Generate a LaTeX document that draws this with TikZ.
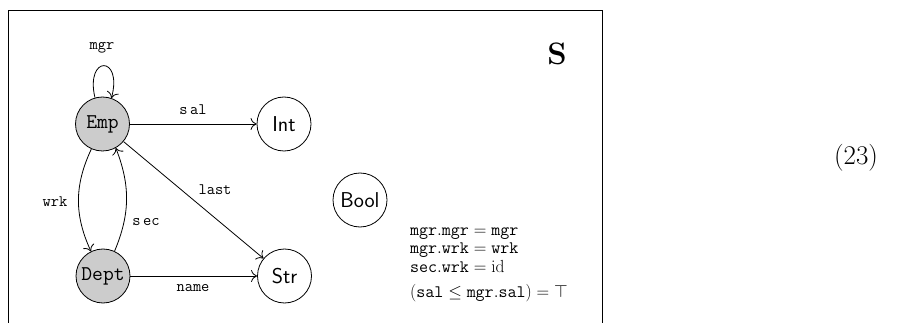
\RequirePackage{fix-cm}
\documentclass[tikz,border=0pt]{standalone}
\usetikzlibrary{arrows.meta}
\begin{document}
\begin{tikzpicture}[x=1pt,y=-1pt,
  every node/.style={inner sep=0pt},
  statenode/.style={circle,draw,line width=0.8pt,minimum size=54pt,inner sep=1pt},
  typenode/.style={statenode,fill=gray!40,font=\fontsize{21}{25}\selectfont\ttfamily},
  basicnode/.style={statenode,font=\fontsize{21.5}{25}\selectfont\sffamily},
  elab/.style={font=\fontsize{16}{19}\selectfont\ttfamily},
  conn/.style={line width=0.8pt,-{To[length=6pt,width=12pt]}},
  eqline/.style={anchor=base west,font=\fontsize{17.5}{21}\selectfont}]
\useasboundingbox (0,0) rectangle (910,323);
\draw[line width=0.9pt] (8,323) -- (8,10) -- (602,10) -- (602,323);

\node[typenode] (emp) at (102.5,124) {Emp};
\node[typenode] (dept) at (103,276) {Dept};
\node[basicnode] (int) at (284,124) {Int};
\node[basicnode] (str) at (284.5,276) {Str};
\node[basicnode] (bool) at (360,200) {Bool};

\draw[conn] (emp) -- (int);
\draw[conn] (dept) -- (str);
\draw[conn] (emp) -- (str);
\draw[conn] (emp.246) to[bend right=25] (dept.116);
\draw[conn] (dept.65) to[bend right=22] (emp.299);
\draw[conn] (emp.106) .. controls (85,55) and (123,55) .. (emp.71);

\node[elab] (lmgr) at (102,48) {mgr};
\node[elab] (lsal) at (193,110) {s\hspace{0.15em}al};
\node[elab] (llast) at (215,190) {last};
\node[elab] (lwrk) at (55,202) {wrk};
\node[elab] (lsec) at (146,222) {s\hspace{0.15em}ec};
\node[elab] (lname) at (193,288) {name};

\node (title) at (557,54) {\fontsize{31}{36}\selectfont\bfseries S};
\node (eqnum) at (856,158) {\fontsize{27}{32}\selectfont (23)};

\node[eqline] (e1) at (410,235) {$\mathtt{mgr.mgr}=\mathtt{mgr}$};
\node[eqline] (e2) at (410,253) {$\mathtt{mgr.wrk}=\mathtt{wrk}$};
\node[eqline] (e3) at (410,272) {$\mathtt{sec.wrk}=\mathrm{id}$};
\node[eqline] (e4) at (410,297) {$(\mathtt{sal}\le\mathtt{mgr.sal})=\top$};
\end{tikzpicture}
\end{document}
